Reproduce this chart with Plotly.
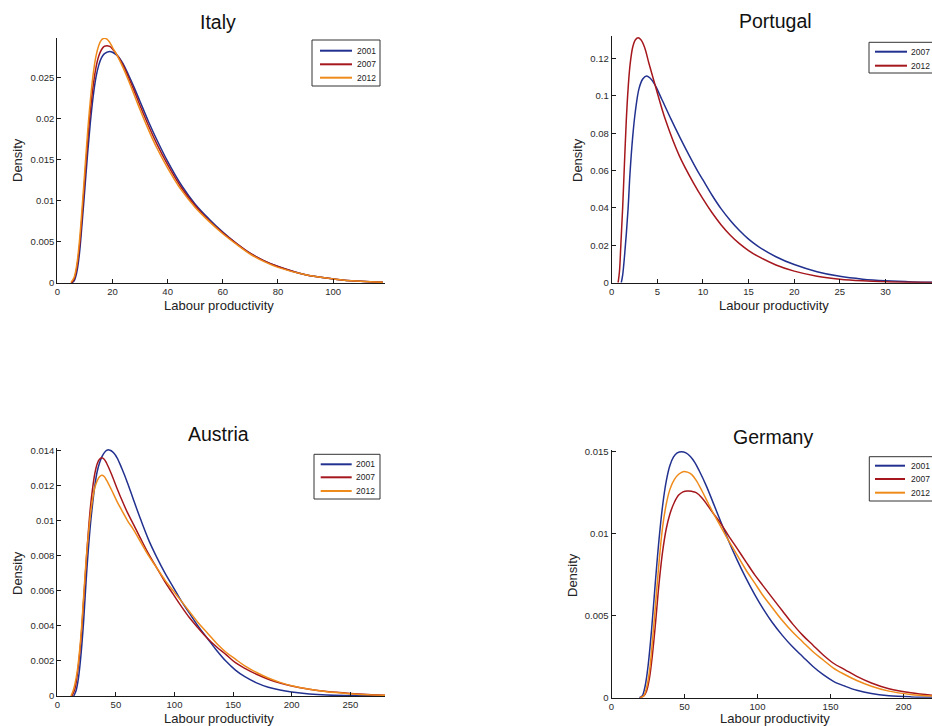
import plotly.graph_objects as go

W, H = 932, 726
FONT = "Liberation Sans, Arial, Helvetica, sans-serif"
SERIES_COLORS = ["#22318f", "#a5171c", "#ef8b1b"]

# ---------------- data: kernel density estimates of labour productivity ----------------
YEARS_3 = ["2001", "2007", "2012"]
YEARS_PT = ["2007", "2012"]

# Italy
ITALY_X_2001 = [5, 6, 7, 8, 9, 10, 11, 12, 13, 14, 15, 16, 17, 18, 19, 20, 22, 24, 26, 28, 30, 33, 36,
                40, 45, 50, 55, 60, 65, 70, 75, 80, 90, 100, 110, 118]
ITALY_Y_2001 = [0, 0.0002, 0.0012, 0.0035, 0.0073, 0.0115, 0.0158, 0.0196, 0.0227, 0.0250, 0.0265,
                0.0274, 0.0279, 0.0281, 0.0282, 0.0281, 0.0276, 0.0266, 0.0252, 0.0237, 0.0221, 0.0197,
                0.0175, 0.0148, 0.0119, 0.0096, 0.0078, 0.0062, 0.0048, 0.0036, 0.0027, 0.0020, 0.0010,
                0.0005, 0.0002, 0.0001]
ITALY_X_2007 = [5, 6, 7, 8, 9, 10, 11, 12, 13, 14, 15, 16, 17, 18, 19, 20, 22, 24, 26, 28, 30, 33, 36,
                40, 45, 50, 55, 60, 65, 70, 75, 80, 90, 100, 110, 118]
ITALY_Y_2007 = [0, 0.0004, 0.0017, 0.0043, 0.0083, 0.0128, 0.0172, 0.0210, 0.0240, 0.0262, 0.0276,
                0.0284, 0.0288, 0.0289, 0.0288, 0.0285, 0.0276, 0.0264, 0.0249, 0.0233, 0.0216, 0.0192,
                0.0170, 0.0144, 0.0116, 0.0094, 0.0076, 0.0061, 0.0048, 0.0036, 0.0027, 0.0020, 0.0010,
                0.0005, 0.0002, 0.0001]
ITALY_X_2012 = [5, 6, 7, 8, 9, 10, 11, 12, 13, 14, 15, 16, 17, 18, 19, 20, 22, 24, 26, 28, 30, 33, 36,
                40, 45, 50, 55, 60, 65, 70, 75, 80, 90, 100, 110, 118]
ITALY_Y_2012 = [0.0001, 0.0006, 0.0021, 0.0050, 0.0092, 0.0138, 0.0184, 0.0223, 0.0254, 0.0276, 0.0289,
                0.0296, 0.0298, 0.0297, 0.0293, 0.0287, 0.0275, 0.0261, 0.0245, 0.0228, 0.0211, 0.0187,
                0.0165, 0.0140, 0.0113, 0.0092, 0.0075, 0.0060, 0.0047, 0.0035, 0.0026, 0.0019, 0.0010,
                0.0005, 0.0002, 0.0001]

# Portugal
PORTUGAL_X_2007 = [1.05, 1.2, 1.4, 1.6, 1.8, 2.0, 2.3, 2.6, 3.0, 3.4, 3.8, 4.2, 4.7, 5.5, 6.5, 7.5, 8.5,
                   9.5, 10, 11, 12, 13, 14, 15, 16, 18, 20, 22.5, 25, 27.5, 30, 33, 36]
PORTUGAL_Y_2007 = [0, 0.004, 0.014, 0.026, 0.040, 0.058, 0.078, 0.092, 0.104, 0.109, 0.1106, 0.1095,
                   0.1062, 0.098, 0.0875, 0.0775, 0.068, 0.059, 0.055, 0.0468, 0.0395, 0.0333, 0.0279,
                   0.0233, 0.0196, 0.0139, 0.0097, 0.0059, 0.0034, 0.0019, 0.0010, 0.0004, 0.00015]
PORTUGAL_X_2012 = [0.7, 0.85, 1.0, 1.2, 1.4, 1.6, 1.8, 2.0, 2.3, 2.6, 2.9, 3.2, 3.6, 4.1, 4.8, 5.9, 7.4,
                   9.0, 10, 11, 12, 13, 14, 15, 16, 18, 20, 22.5, 25, 27.5, 30, 33, 36]
PORTUGAL_Y_2012 = [0, 0.006, 0.020, 0.040, 0.064, 0.087, 0.104, 0.116, 0.126, 0.130, 0.131, 0.130, 0.126,
                   0.117, 0.105, 0.087, 0.068, 0.0530, 0.0448, 0.0374, 0.0309, 0.0254, 0.0209, 0.0172,
                   0.0142, 0.0095, 0.0062, 0.0035, 0.0019, 0.0010, 0.0005, 0.0002, 0.00008]

# Austria
AUSTRIA_X_2001 = [14, 16, 18, 20, 22.5, 25, 28, 30, 32, 34, 36, 38, 40, 42, 44, 46, 48, 51, 55, 60, 65,
                  71, 78, 85, 92, 99, 106, 113, 120, 128, 136, 144, 152, 160, 170, 180, 190, 200, 215,
                  230, 250, 280]
AUSTRIA_Y_2001 = [0, 0.0003, 0.0010, 0.0022, 0.0043, 0.0070, 0.0096, 0.0109, 0.0120, 0.0128, 0.0133,
                  0.01365, 0.01388, 0.01402, 0.01405, 0.01400, 0.01388, 0.0136, 0.0130, 0.01215, 0.0112,
                  0.0101, 0.0089, 0.0079, 0.0070, 0.0062, 0.0054, 0.0047, 0.0040, 0.0033, 0.0026,
                  0.00198, 0.00148, 0.0011, 0.00075, 0.0005, 0.00034, 0.00023, 0.00012, 0.00006,
                  0.00003, 0.00001]
AUSTRIA_X_2007 = [12.5, 15, 17, 20, 22.5, 25, 28, 30, 32, 34, 36, 38, 40, 42, 46, 51, 55, 60, 65, 71, 78,
                  85, 92, 99, 106, 113, 120, 128, 136, 144, 152, 160, 170, 180, 190, 200, 215, 230, 250,
                  265, 280]
AUSTRIA_Y_2007 = [0, 0.0004, 0.0012, 0.0031, 0.0055, 0.0080, 0.0106, 0.0118, 0.0127, 0.01325, 0.01352,
                  0.0136, 0.01352, 0.0133, 0.0127, 0.01185, 0.0112, 0.01045, 0.0098, 0.0090, 0.0081,
                  0.0073, 0.0065, 0.0058, 0.0051, 0.00445, 0.0039, 0.0033, 0.0028, 0.00236, 0.0019,
                  0.00158, 0.00124, 0.00096, 0.00074, 0.00057, 0.00038, 0.00025, 0.00014, 0.00008,
                  0.00004]
AUSTRIA_X_2012 = [11.7, 14, 17, 20, 22.5, 25, 28, 30, 32, 34, 36, 38, 40, 42, 46, 51, 55, 60, 65, 71, 78,
                  85, 92, 99, 106, 113, 120, 128, 136, 144, 152, 160, 170, 180, 190, 200, 215, 230, 250,
                  265, 280]
AUSTRIA_Y_2012 = [0, 0.0004, 0.0014, 0.0033, 0.0057, 0.0081, 0.0102, 0.0112, 0.0119, 0.01228, 0.01252,
                  0.0126, 0.01253, 0.01232, 0.0118, 0.0111, 0.0106, 0.0100, 0.0095, 0.0088, 0.0080,
                  0.0073, 0.0066, 0.0060, 0.0054, 0.0048, 0.0042, 0.0036, 0.0030, 0.0025, 0.0021,
                  0.00172, 0.00134, 0.00103, 0.00078, 0.00058, 0.00038, 0.00024, 0.00013, 0.00007,
                  0.00004]

# Germany
GERMANY_X_2001 = [19, 21, 23, 25, 27.5, 30, 32.5, 35, 37.5, 40, 42.5, 45, 48, 51, 54, 57, 60, 65, 70, 75,
                  80, 86, 92, 98, 104, 110, 117, 124, 131, 138, 145, 152, 160, 168, 178, 190, 205, 220]
GERMANY_Y_2001 = [0, 0.0001, 0.0007, 0.0019, 0.0042, 0.0070, 0.0096, 0.0117, 0.0132, 0.01415, 0.01468,
                  0.01492, 0.0150, 0.01492, 0.0147, 0.01435, 0.01385, 0.0129, 0.0118, 0.0107, 0.0096,
                  0.0084, 0.0073, 0.0063, 0.0054, 0.0046, 0.0038, 0.0031, 0.0025, 0.0019, 0.0014, 0.0010,
                  0.0007, 0.00045, 0.00025, 0.00012, 0.00005, 0.00002]
GERMANY_X_2007 = [19.5, 22, 24, 26, 28, 30, 32.5, 35, 37.5, 40, 43, 46, 49, 52, 55, 58, 62, 66, 70, 75,
                  80, 86, 92, 98, 104, 110, 117, 124, 131, 138, 145, 152, 160, 168, 178, 190, 205, 220]
GERMANY_Y_2007 = [0, 0.0001, 0.0004, 0.0012, 0.0026, 0.0044, 0.0069, 0.0089, 0.0103, 0.0112, 0.0119,
                  0.01235, 0.01255, 0.0126, 0.01258, 0.0125, 0.01218, 0.0117, 0.0112, 0.0106, 0.0099,
                  0.0091, 0.0083, 0.0075, 0.0068, 0.0061, 0.0053, 0.0045, 0.0038, 0.0032, 0.0026,
                  0.0021, 0.0017, 0.0013, 0.0009, 0.00055, 0.0003, 0.00015]
GERMANY_X_2012 = [19.5, 22, 24, 26, 28, 30, 32.5, 35, 37.5, 40, 43, 46, 49, 52, 55, 58, 62, 66, 70, 75,
                  80, 86, 92, 98, 104, 110, 117, 124, 131, 138, 145, 152, 160, 168, 178, 190, 205, 220]
GERMANY_Y_2012 = [0, 0.0001, 0.0006, 0.0016, 0.0034, 0.0055, 0.0082, 0.0104, 0.0118, 0.0127, 0.0133,
                  0.01362, 0.01378, 0.01375, 0.0136, 0.01325, 0.0126, 0.0119, 0.0112, 0.0104, 0.0096,
                  0.0087, 0.0078, 0.0070, 0.0062, 0.0055, 0.0047, 0.0040, 0.0034, 0.0028, 0.0023,
                  0.0018, 0.0014, 0.00105, 0.0007, 0.0004, 0.0002, 0.0001]

# axis ticks
ITALY_XTICKS = [0, 20, 40, 60, 80, 100]
ITALY_YTICKS = [0, 0.005, 0.01, 0.015, 0.02, 0.025]
PORTUGAL_XTICKS = [0, 5, 10, 15, 20, 25, 30, 35]
PORTUGAL_YTICKS = [0, 0.02, 0.04, 0.06, 0.08, 0.1, 0.12]
AUSTRIA_XTICKS = [0, 50, 100, 150, 200, 250]
AUSTRIA_YTICKS = [0, 0.002, 0.004, 0.006, 0.008, 0.01, 0.012, 0.014]
GERMANY_XTICKS = [0, 50, 100, 150, 200]
GERMANY_YTICKS = [0, 0.005, 0.01, 0.015]

# ---------------- layout geometry (pixels) ----------------
panels = [
    dict(name="Italy", years=YEARS_3,
         xs=[ITALY_X_2001, ITALY_X_2007, ITALY_X_2012],
         ys=[ITALY_Y_2001, ITALY_Y_2007, ITALY_Y_2012],
         xticks=ITALY_XTICKS, yticks=ITALY_YTICKS,
         xrange=[0, 118.8], yrange=[0, 0.02983],
         box=(57.3, 385, 38, 283), title_xy=(218, 22),
         xlab_xy=(219, 305), ylab_xy=(17, 160),
         legend=dict(box=(312, 380, 40, 86), rows=[50.7, 64.3, 77.7], line=(320, 352), text=355)),
    dict(name="Portugal", years=YEARS_PT,
         xs=[PORTUGAL_X_2007, PORTUGAL_X_2012],
         ys=[PORTUGAL_Y_2007, PORTUGAL_Y_2012],
         xticks=PORTUGAL_XTICKS, yticks=PORTUGAL_YTICKS,
         xrange=[0, 35.1], yrange=[0, 0.132],
         box=(611.7, 932, 36, 282.7), title_xy=(775, 21),
         xlab_xy=(774, 305), ylab_xy=(577, 160),
         legend=dict(box=(869, 960, 42.3, 73), rows=[51.7, 65.7], line=(875, 907), text=909)),
    dict(name="Austria", years=YEARS_3,
         xs=[AUSTRIA_X_2001, AUSTRIA_X_2007, AUSTRIA_X_2012],
         ys=[AUSTRIA_Y_2001, AUSTRIA_Y_2007, AUSTRIA_Y_2012],
         xticks=AUSTRIA_XTICKS, yticks=AUSTRIA_YTICKS,
         xrange=[0, 279.6], yrange=[0, 0.01414],
         box=(57.3, 385, 448.3, 696), title_xy=(218, 434),
         xlab_xy=(219, 718), ylab_xy=(17, 573),
         legend=dict(box=(314, 380, 454.3, 499), rows=[464.3, 477.3, 491], line=(320.7, 351.7), text=354.3)),
    dict(name="Germany", years=YEARS_3,
         xs=[GERMANY_X_2001, GERMANY_X_2007, GERMANY_X_2012],
         ys=[GERMANY_Y_2001, GERMANY_Y_2007, GERMANY_Y_2012],
         xticks=GERMANY_XTICKS, yticks=GERMANY_YTICKS,
         xrange=[0, 219.5], yrange=[0, 0.0151],
         box=(611.5, 932, 450, 697.7), title_xy=(773, 437),
         xlab_xy=(775, 718.5), ylab_xy=(572, 575),
         legend=dict(box=(869.3, 960, 456.7, 501), rows=[465.7, 479, 492.7], line=(875, 905), text=909)),
]


def px(x):
    return x / W


def py(y):
    return 1 - y / H


fig = go.Figure()
layout = dict(width=W, height=H, margin=dict(l=0, r=0, t=0, b=0, autoexpand=False),
              paper_bgcolor="white", plot_bgcolor="white", showlegend=False,
              font=dict(family=FONT, color="#222"))
annotations = []
shapes = []

axis_common = dict(showline=True, linecolor="#1a1a1a", linewidth=1, mirror=False,
                   ticks="inside", ticklen=4, tickcolor="#1a1a1a", tickwidth=1,
                   showgrid=False, zeroline=False, tickfont=dict(size=9.5, color="#2a2a2a", family=FONT),
                   fixedrange=True)

for i, p in enumerate(panels, start=1):
    xa = "x" if i == 1 else f"x{i}"
    ya = "y" if i == 1 else f"y{i}"
    l, r, t, b = p["box"]
    layout["xaxis" if i == 1 else f"xaxis{i}"] = dict(
        axis_common, domain=[px(l), px(r)], anchor=ya, range=p["xrange"],
        tickmode="array", tickvals=p["xticks"])
    layout["yaxis" if i == 1 else f"yaxis{i}"] = dict(
        axis_common, domain=[py(b), py(t)], anchor=xa, range=p["yrange"],
        tickmode="array", tickvals=p["yticks"])

    for k, (xv, yv) in enumerate(zip(p["xs"], p["ys"])):
        fig.add_trace(go.Scatter(x=xv, y=yv, mode="lines", name=p["years"][k],
                                 line=dict(color=SERIES_COLORS[k], width=1.5, shape="spline", smoothing=1.0),
                                 xaxis=xa, yaxis=ya, hoverinfo="skip"))

    tx, ty = p["title_xy"]
    annotations.append(dict(text=p["name"], x=px(tx), y=py(ty), xref="paper", yref="paper",
                            showarrow=False, xanchor="center", yanchor="middle",
                            font=dict(size=19.5, color="#111", family=FONT)))
    lx, ly = p["xlab_xy"]
    annotations.append(dict(text="Labour productivity", x=px(lx), y=py(ly), xref="paper", yref="paper",
                            showarrow=False, xanchor="center", yanchor="middle",
                            font=dict(size=13, color="#222", family=FONT)))
    dx, dy = p["ylab_xy"]
    annotations.append(dict(text="Density", x=px(dx), y=py(dy), xref="paper", yref="paper",
                            showarrow=False, xanchor="center", yanchor="middle", textangle=-90,
                            font=dict(size=13, color="#222", family=FONT)))

    # legend box with a line sample and a label per year
    lg = p["legend"]
    bl, br, bt, bb = lg["box"]
    shapes.append(dict(type="rect", xref="paper", yref="paper", x0=px(bl), x1=px(br), y0=py(bb), y1=py(bt),
                       line=dict(color="#333", width=1), fillcolor="white", layer="above"))
    for k, (year, ry) in enumerate(zip(p["years"], lg["rows"])):
        shapes.append(dict(type="line", xref="paper", yref="paper", x0=px(lg["line"][0]), x1=px(lg["line"][1]),
                           y0=py(ry), y1=py(ry), line=dict(color=SERIES_COLORS[k], width=2), layer="above"))
        annotations.append(dict(text=year, x=px(lg["text"]), y=py(ry), xref="paper", yref="paper",
                                showarrow=False, xanchor="left", yanchor="middle",
                                font=dict(size=8.5, color="#222", family=FONT)))

layout["annotations"] = annotations
layout["shapes"] = shapes
fig.update_layout(**layout)

fig.write_html("out.html", config={"displayModeBar": False, "staticPlot": True})
